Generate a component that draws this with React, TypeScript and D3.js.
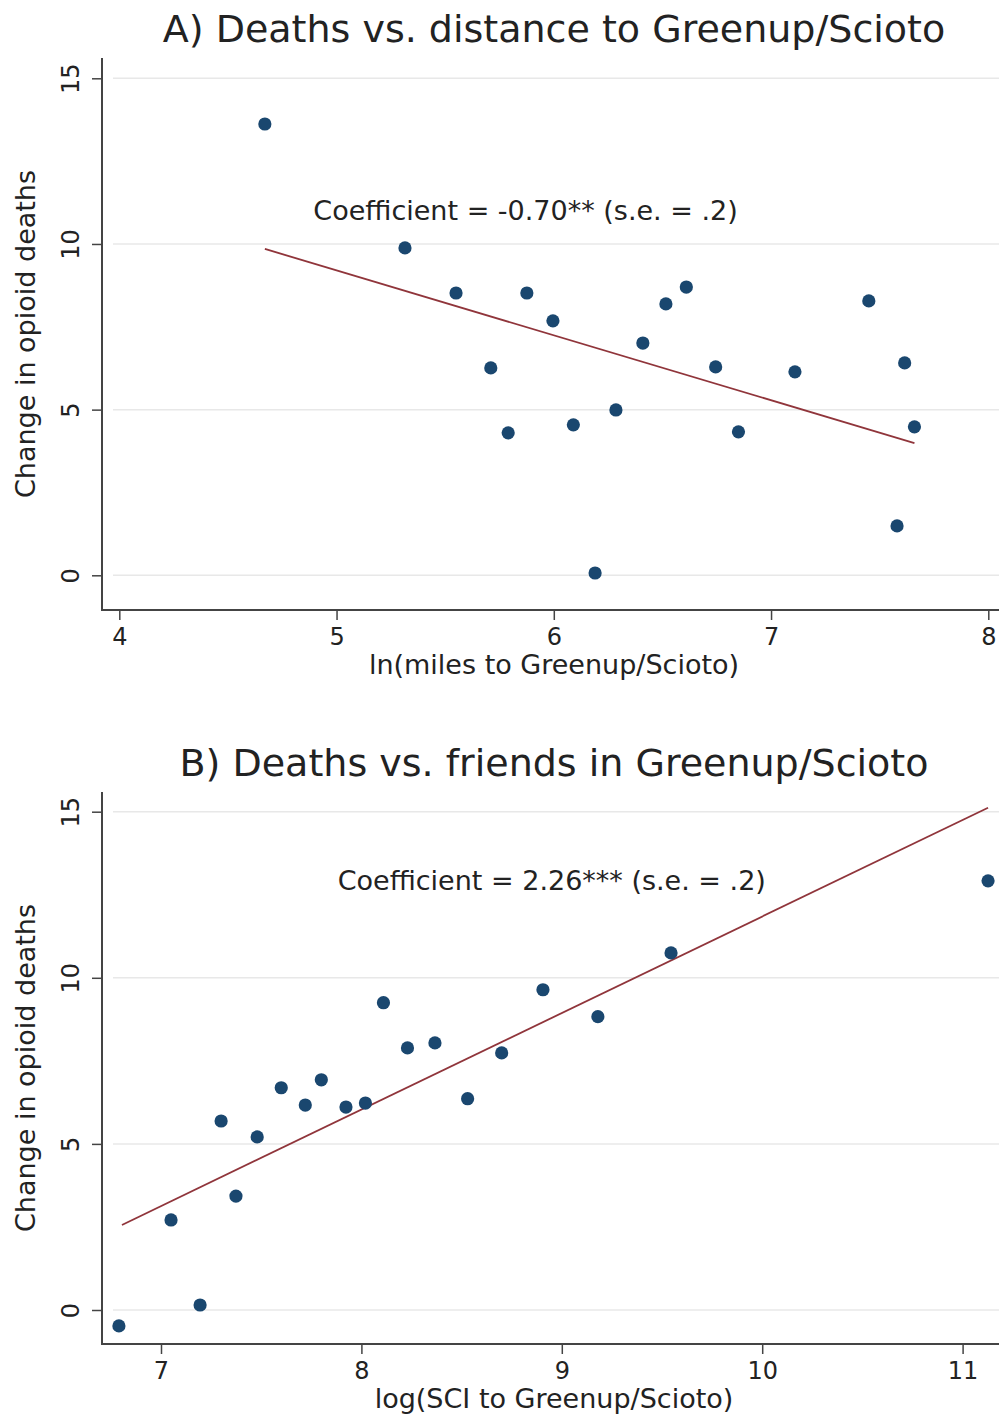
import * as d3 from 'd3';
import React, { useEffect, useRef } from 'react';

// Panel A: ln(miles to Greenup/Scioto) vs change in opioid deaths
const distX = [4.67, 5.315, 5.55, 5.71, 5.79, 5.876, 5.996, 6.09, 6.19, 6.286, 6.41, 6.516, 6.61, 6.745, 6.85, 7.11, 7.45, 7.58, 7.615, 7.66];
const distY = [13.62, 9.88, 8.52, 6.26, 4.3, 8.52, 7.68, 4.54, 0.07, 4.99, 7.01, 8.19, 8.7, 6.29, 4.33, 6.14, 8.28, 1.49, 6.41, 4.48];
const distFitX = [4.67, 7.66];
const distFitY = [9.85, 3.99];
const distTicks = [4, 5, 6, 7, 8];

// Panel B: log(SCI to Greenup/Scioto) vs change in opioid deaths
const sciX = [6.79, 7.05, 7.195, 7.3, 7.374, 7.48, 7.6, 7.72, 7.8, 7.923, 8.02, 8.11, 8.23, 8.367, 8.53, 8.7, 8.906, 9.18, 9.545, 11.127];
const sciY = [-0.48, 2.71, 0.15, 5.69, 3.43, 5.21, 6.69, 6.17, 6.93, 6.11, 6.23, 9.25, 7.89, 8.04, 6.36, 7.74, 9.64, 8.83, 10.75, 12.92];
const sciFitX = [6.805, 11.127];
const sciFitY = [2.56, 15.12];
const sciTicks = [7, 8, 9, 10, 11];

const yTicks = [0, 5, 10, 15];

const W = 999;
const H = 1416;
const FONT = 'DejaVu Sans, sans-serif';
const NAVY = '#1a476f';
const MAROON = '#90353b';
const INK = '#222';

const panels = [
  {
    title: 'A) Deaths vs. distance to Greenup/Scioto',
    xTitle: 'ln(miles to Greenup/Scioto)',
    note: 'Coefficient = -0.70** (s.e. = .2)',
    noteX: 5.87, noteY: 11.0,
    xs: distX, ys: distY, fitX: distFitX, fitY: distFitY, ticks: distTicks,
    xRange: [119.3, 988.3], yRange: [575.3, 78.3],
    top: 58, bottom: 610, titleY: 42,
  },
  {
    title: 'B) Deaths vs. friends in Greenup/Scioto',
    xTitle: 'log(SCI to Greenup/Scioto)',
    note: 'Coefficient = 2.26*** (s.e. = .2)',
    noteX: 8.95, noteY: 12.94,
    xs: sciX, ys: sciY, fitX: sciFitX, fitY: sciFitY, ticks: sciTicks,
    xRange: [161, 962.6], yRange: [1310, 811.7],
    top: 792, bottom: 1344, titleY: 776,
  },
];

const App = () => {
  const svgRef = useRef(null);

  useEffect(() => {
    const svg = d3.select(svgRef.current);
    svg.selectAll('*').remove();
    svg.attr('width', W).attr('height', H);
    svg.append('rect').attr('width', W).attr('height', H).attr('fill', '#fff');

    const left = 102;

    panels.forEach(p => {
      const x = d3.scaleLinear().domain([p.ticks[0], p.ticks[p.ticks.length - 1]]).range(p.xRange);
      const y = d3.scaleLinear().domain([0, 15]).range(p.yRange);
      const g = svg.append('g');

      // gridlines
      g.selectAll('line.grid')
        .data(yTicks)
        .enter()
        .append('line')
        .attr('x1', left + 11)
        .attr('x2', W)
        .attr('y1', d => y(d))
        .attr('y2', d => y(d))
        .attr('stroke', '#e8e8e8')
        .attr('stroke-width', 1.5);

      // y axis
      const yAxis = g.append('g')
        .attr('transform', `translate(${left},0)`)
        .call(d3.axisLeft(y).tickValues(yTicks).tickFormat(d3.format('d')).tickSize(10).tickSizeOuter(0));
      yAxis.select('.domain').remove();
      yAxis.selectAll('line').attr('stroke', '#444').attr('stroke-width', 1.5);
      yAxis.selectAll('text')
        .attr('x', 0)
        .attr('y', -23)
        .attr('dy', 0)
        .attr('transform', 'rotate(-90)')
        .attr('text-anchor', 'middle')
        .attr('fill', INK)
        .style('font-family', FONT)
        .style('font-size', '24px');

      // x axis
      const xAxis = g.append('g')
        .attr('transform', `translate(0,${p.bottom})`)
        .call(d3.axisBottom(x).tickValues(p.ticks).tickFormat(d3.format('d')).tickSize(10).tickPadding(8).tickSizeOuter(0));
      xAxis.select('.domain').remove();
      xAxis.selectAll('line').attr('stroke', '#444').attr('stroke-width', 1.5);
      xAxis.selectAll('text')
        .attr('fill', INK)
        .style('font-family', FONT)
        .style('font-size', '24px');

      // axis lines
      g.append('line')
        .attr('x1', left).attr('x2', left)
        .attr('y1', p.top).attr('y2', p.bottom)
        .attr('stroke', '#444').attr('stroke-width', 2);
      g.append('line')
        .attr('x1', left - 1).attr('x2', W)
        .attr('y1', p.bottom).attr('y2', p.bottom)
        .attr('stroke', '#444').attr('stroke-width', 2);

      // fitted line
      const fit = p.fitX.map((v, i) => [v, p.fitY[i]]);
      g.append('path')
        .datum(fit)
        .attr('fill', 'none')
        .attr('stroke', MAROON)
        .attr('stroke-width', 1.8)
        .attr('d', d3.line().x(d => x(d[0])).y(d => y(d[1])));

      // points
      const pts = p.xs.map((v, i) => ({ x: v, y: p.ys[i] }));
      g.selectAll('circle')
        .data(pts)
        .enter()
        .append('circle')
        .attr('cx', d => x(d.x))
        .attr('cy', d => y(d.y))
        .attr('r', 6.6)
        .attr('fill', NAVY);

      // texts
      g.append('text')
        .attr('x', 554)
        .attr('y', p.titleY)
        .attr('text-anchor', 'middle')
        .attr('fill', INK)
        .style('font-family', FONT)
        .style('font-size', '38px')
        .text(p.title);

      g.append('text')
        .attr('x', x(p.noteX))
        .attr('y', y(p.noteY))
        .attr('dy', '0.35em')
        .attr('text-anchor', 'middle')
        .attr('fill', INK)
        .style('font-family', FONT)
        .style('font-size', '27px')
        .text(p.note);

      g.append('text')
        .attr('x', 554)
        .attr('y', p.bottom + 64)
        .attr('text-anchor', 'middle')
        .attr('fill', INK)
        .style('font-family', FONT)
        .style('font-size', '27px')
        .text(p.xTitle);

      g.append('text')
        .attr('transform', `translate(35,${(p.top + p.bottom) / 2}) rotate(-90)`)
        .attr('text-anchor', 'middle')
        .attr('fill', INK)
        .style('font-family', FONT)
        .style('font-size', '27px')
        .text('Change in opioid deaths');
    });
  }, []);

  return <svg ref={svgRef} style={{ position: 'absolute', left: 0, top: 0 }}></svg>;
};

export default App;
